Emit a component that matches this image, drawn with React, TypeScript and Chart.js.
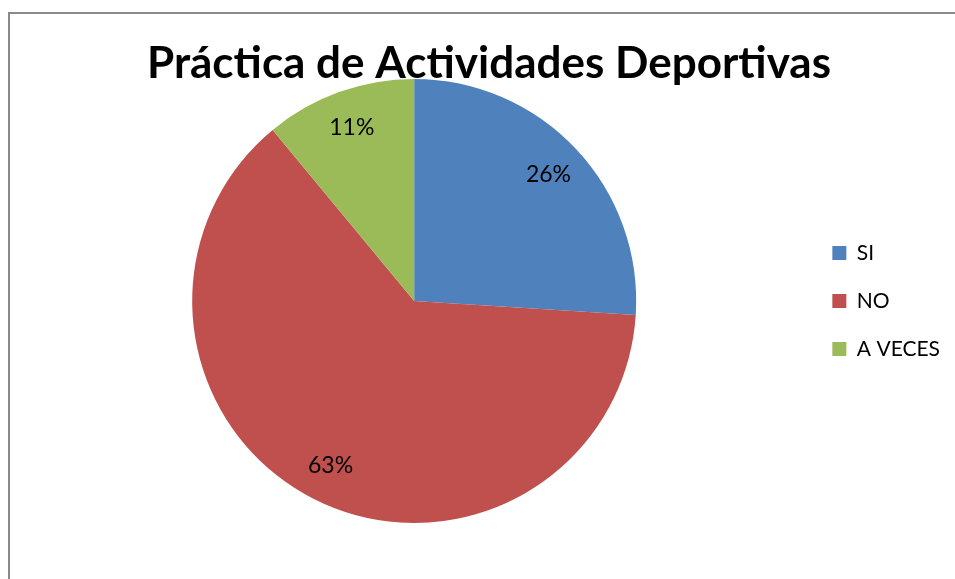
import React, { useEffect, useRef } from "react";
import { Chart, registerables } from "chart.js";

Chart.register(...registerables);

const categories = ["SI", "NO", "A VECES"];
const values = [26, 63, 11];
const percentLabels = ["26%", "63%", "11%"];
const colors = ["#4F81BD", "#C0504D", "#9BBB59"];
const titleText = "Práctica de Actividades Deportivas";

const FONT = "Lato, 'Open Sans', sans-serif";

const titlePlugin = {
  id: "overTitle",
  afterDatasetsDraw(chart: any) {
    const ctx = chart.ctx;
    ctx.save();
    ctx.font = `bold 44px ${FONT}`;
    ctx.fillStyle = "#000";
    ctx.textAlign = "center";
    ctx.textBaseline = "alphabetic";
    ctx.fillText(titleText, 489, 78);
    ctx.restore();
  },
};

const labelPlugin = {
  id: "sliceLabels",
  afterDatasetsDraw(chart: any) {
    const ctx = chart.ctx;
    const meta = chart.getDatasetMeta(0);
    ctx.save();
    ctx.font = `23px ${FONT}`;
    ctx.fillStyle = "#000";
    ctx.textAlign = "center";
    ctx.textBaseline = "middle";
    meta.data.forEach((arc: any, i: number) => {
      const p = arc.getProps(["x", "y", "startAngle", "endAngle", "outerRadius"], true);
      const mid = (p.startAngle + p.endAngle) / 2;
      const r = p.outerRadius * 0.83;
      ctx.fillText(percentLabels[i], p.x + Math.cos(mid) * r, p.y + Math.sin(mid) * r);
    });
    ctx.restore();
  },
};

export default function App() {
  const ref = useRef<HTMLCanvasElement>(null);
  useEffect(() => {
    if (!ref.current) return;
    const chart = new Chart(ref.current, {
      type: "pie",
      data: {
        labels: categories,
        datasets: [
          {
            data: values,
            backgroundColor: colors,
            borderWidth: 0,
          },
        ],
      },
      options: {
        animation: false,
        responsive: false,
        maintainAspectRatio: false,
        layout: { padding: { left: 23, top: 79, bottom: 56, right: 0 } },
        plugins: {
          title: { display: false },
          tooltip: { enabled: false },
          legend: {
            position: "right",
            align: "center",
            labels: {
              boxWidth: 14,
              boxHeight: 14,
              padding: 27,
              color: "#000",
              font: { family: FONT, size: 21 },
            },
          },
        },
      },
      plugins: [titlePlugin, labelPlugin],
    });
    return () => chart.destroy();
  }, []);

  return (
    <div style={{ position: "fixed", inset: 0, overflow: "hidden", background: "#fff" }}>
      <div
        style={{
          position: "absolute",
          left: 8,
          top: 12,
          width: 2000,
          height: 2000,
          borderLeft: "2px solid #898989",
          borderTop: "2px solid #898989",
        }}
      />
      <canvas
        ref={ref}
        width={950}
        height={579}
        style={{ position: "absolute", left: 0, top: 0, width: 950, height: 579 }}
      />
    </div>
  );
}
